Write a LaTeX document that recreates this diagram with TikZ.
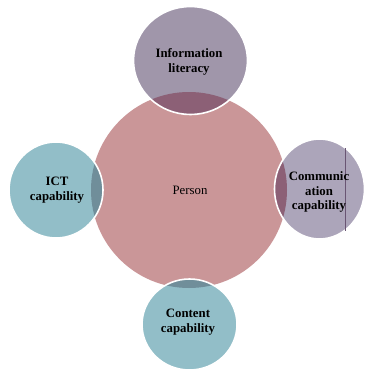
\documentclass[tikz,border=0pt]{standalone}
\usepackage{fontspec}
\setmainfont{Liberation Serif}
\definecolor{pinkc}{RGB}{202,150,152}
\definecolor{purpc}{RGB}{160,150,170}
\definecolor{lavc}{RGB}{172,165,186}
\definecolor{tealc}{RGB}{146,190,200}
\definecolor{ovpurp}{RGB}{140,96,118}
\definecolor{ovteal}{RGB}{112,142,154}
\definecolor{vline}{RGB}{105,85,115}
\tikzset{
  lbl/.style={align=center, font=\bfseries\fontsize{12.8}{14.5}\selectfont, text=black},
  plbl/.style={align=center, font=\fontsize{12.8}{14.5}\selectfont, text=black},
  rim/.style={draw=white, line width=1.6pt}
}
\begin{document}
\begin{tikzpicture}[x=1pt,y=-1pt]
\useasboundingbox (0,0) rectangle (365,372);
% central circle
\coordinate (pc) at (189,190);
\fill[pinkc] (pc) circle (98);
% top satellite
\coordinate (tc) at (190.5,60.5);
\fill[purpc] (tc) ellipse (57 and 54);
\begin{scope}\clip (tc) ellipse (57 and 54); \fill[ovpurp] (pc) circle (98); \end{scope}
\draw[rim] (tc) ellipse (57 and 54);
% right satellite
\coordinate (rc) at (319.5,189);
\fill[lavc] (rc) ellipse (45 and 50);
\begin{scope}\clip (rc) ellipse (45 and 50); \fill[ovpurp] (pc) circle (98); \end{scope}
\draw[rim] (rc) ellipse (45 and 50);
\coordinate (v1) at (345,148);
\coordinate (v2) at (345,231);
\draw[vline, line width=0.45pt] (v1) -- (v2);
% left satellite
\coordinate (lc) at (56,190);
\fill[tealc] (lc) ellipse (47 and 48);
\begin{scope}\clip (lc) ellipse (47 and 48); \fill[ovteal] (pc) circle (98); \end{scope}
\draw[rim] (lc) ellipse (47 and 48);
% bottom satellite
\coordinate (bc) at (189.5,324.5);
\fill[tealc] (bc) ellipse (47.5 and 45.5);
\begin{scope}\clip (bc) ellipse (47.5 and 45.5); \fill[ovteal] (pc) circle (98); \end{scope}
\draw[rim] (bc) ellipse (47.5 and 45.5);
% labels
\node[plbl] (person) at (190,190) {Person};
\node[lbl] (info) at (189,62) {Information\\literacy};
\node[lbl] (comm) at (319,192) {Communic\\ation\\capability};
\node[lbl] (ict) at (57,190) {ICT\\capability};
\node[lbl] (cont) at (188,322) {Content\\capability};
\end{tikzpicture}
\end{document}
